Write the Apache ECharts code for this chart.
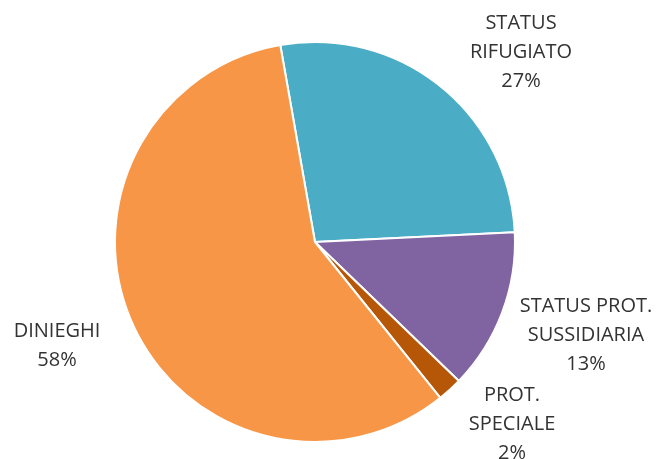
<!DOCTYPE html>
<html>
<head>
<meta charset="utf-8">
<script src="https://cdn.jsdelivr.net/npm/echarts@6/dist/echarts.min.js"></script>
<style>
  html, body { margin: 0; padding: 0; background: #fff; }
  #chart { width: 657px; height: 459px; }
</style>
</head>
<body>
<div id="chart"></div>
<script>
var categories = ['STATUS\nRIFUGIATO', 'STATUS PROT.\nSUSSIDIARIA', 'PROT.\nSPECIALE', 'DINIEGHI'];
var shares = [27, 13, 2, 58];
var colors = ['#4BACC6', '#8064A2', '#B65708', '#F79646'];
// where each label's centre sits (px)
var labelSpots = [[521, 52], [586, 335], [512, 424], [57, 346]];

var chart = echarts.init(document.getElementById('chart'));
var data = categories.map(function (name, i) {
  return { name: name, value: shares[i], itemStyle: { color: colors[i] } };
});

chart.setOption({
  animation: false,
  series: [
    {
      type: 'pie',
      center: [315, 242],
      radius: 200,
      startAngle: 100,
      clockwise: true,
      data: data,
      itemStyle: { borderColor: '#fff', borderWidth: 2 },
      label: {
        show: true,
        position: 'outside',
        formatter: '{b}\n{c}%',
        fontFamily: 'Open Sans',
        fontSize: 20,
        lineHeight: 29,
        color: '#333',
        align: 'center',
        overflow: 'none'
      },
      labelLine: { show: false },
      labelLayout: function (params) {
        var p = labelSpots[params.dataIndex];
        return { x: p[0], y: p[1], align: 'center', verticalAlign: 'middle' };
      }
    }
  ]
});
</script>
</body>
</html>
